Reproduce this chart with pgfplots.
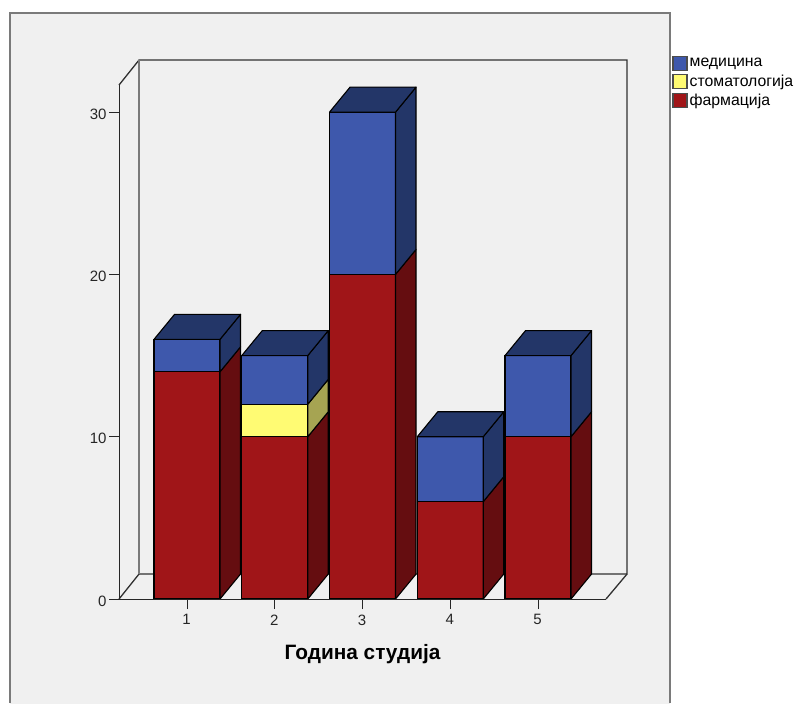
\documentclass[border=0pt]{standalone}
\usepackage{fontspec}
\setmainfont{Liberation Sans}
\usepackage{pgfplots}
\pgfplotsset{compat=1.18}

\definecolor{panel}{HTML}{F0F0F0}
\definecolor{rim}{HTML}{7A7A7A}
\definecolor{wallline}{HTML}{303030}
\definecolor{blue1}{HTML}{3E58AC}
\definecolor{blue2}{HTML}{233668}
\definecolor{yel1}{HTML}{FFFB73}
\definecolor{yel2}{HTML}{A6A452}
\definecolor{red1}{HTML}{A01518}
\definecolor{red2}{HTML}{650D10}

\pgfplotsset{
  wall/.style={forget plot, sharp plot, no markers, color=wallline, line width=1.3pt},
  face/.style={forget plot, sharp plot, no markers, draw=black, line width=1.1pt, line join=round, fill=#1},
  front/.style={ybar, bar width=66pt, bar shift=0pt, stack plots=y, draw=black, line width=1.1pt, fill=#1},
}

\begin{document}
\begin{tikzpicture}
\begin{axis}[
    scale only axis,
    width=487pt, height=514pt,
    xmin=0.2251, xmax=5.7749,
    ymin=0, ymax=31.67,
    clip=false,
    axis on top,
    axis x line*=bottom,
    axis y line*=left,
    axis line style={-, black!85, line width=1pt},
    xtick={1,2,3,4,5},
    ytick={0,10,20,30},
    tick align=outside,
    major tick length=10pt,
    tick style={black!85, line width=1pt},
    /pgf/number format/assume math mode=true,
    tick label style={font=\fontsize{15}{17}\selectfont, color=black!85},
    xticklabel style={yshift=-2pt, xshift=-0.5pt},
    yticklabel style={xshift=1pt, yshift=-2pt},
    xlabel={Година студија},
    xlabel style={font=\fontsize{20.8}{23}\selectfont\bfseries, at={(axis cs:3,-3.40)}, anchor=center},
    reverse legend,
    legend cell align=left,
    legend style={
        at={(axis cs:6.53,33.50)}, anchor=north west,
        draw=none, fill=none, inner sep=0pt,
        font=\fontsize{15.8}{17}\selectfont,
        row sep=2.2pt,
        /tikz/every even column/.append style={column sep=5pt},
    },
    legend image code/.code={
        \draw[#1, line width=1.2pt, draw=black!70] (0pt,-7pt) rectangle (14pt,7pt);
    },
]
% page and panel
\addplot[forget plot, sharp plot, draw=none, fill=white] coordinates {
    (-1.1311,-6.47) (7.9402,-6.47) (7.9402,36.91) (-1.1311,36.91)} -- cycle;
\addplot[forget plot, sharp plot, draw=none, fill=panel] coordinates {
    (-1.0228,-6.47) (6.4986,-6.47) (6.4986,36.11) (-1.0228,36.11)} -- cycle;
\addplot[forget plot, sharp plot, no markers, color=rim, line width=2pt] coordinates {
    (-1.0228,-6.40) (-1.0228,36.11) (6.4986,36.11) (6.4986,-6.40)};

% walls and floor
\addplot[wall] coordinates {(0.2251,31.67) (0.4530,33.21) (6.0142,33.21) (6.0142,1.54) (0.4530,1.54) (0.2251,0)};
\addplot[wall] coordinates {(5.7749,0) (6.0142,1.54)};
\addplot[wall, color=rim] coordinates {(0.4530,33.21) (0.4530,1.54)};

% front faces
\addplot[front=red1] coordinates {(1,14) (2,10) (3,20) (4,6) (5,10)};
\addlegendentry{фармација}
\addplot[front=yel1] coordinates {(1,0) (2,2) (3,0) (4,0) (5,0)};
\addlegendentry{стоматологија}
\addplot[front=blue1] coordinates {(1,2) (2,3) (3,10) (4,4) (5,5)};
\addlegendentry{медицина}

% side faces
\addplot[face=red2]  coordinates {(1.376,0) (1.61,1.54) (1.61,15.54) (1.376,14)} -- cycle;
\addplot[face=blue2] coordinates {(1.376,14) (1.61,15.54) (1.61,17.54) (1.376,16)} -- cycle;
\addplot[face=red2]  coordinates {(2.376,0) (2.61,1.54) (2.61,11.54) (2.376,10)} -- cycle;
\addplot[face=yel2]  coordinates {(2.376,10) (2.61,11.54) (2.61,13.54) (2.376,12)} -- cycle;
\addplot[face=blue2] coordinates {(2.376,12) (2.61,13.54) (2.61,16.54) (2.376,15)} -- cycle;
\addplot[face=red2]  coordinates {(3.376,0) (3.61,1.54) (3.61,21.54) (3.376,20)} -- cycle;
\addplot[face=blue2] coordinates {(3.376,20) (3.61,21.54) (3.61,31.54) (3.376,30)} -- cycle;
\addplot[face=red2]  coordinates {(4.376,0) (4.61,1.54) (4.61,7.54) (4.376,6)} -- cycle;
\addplot[face=blue2] coordinates {(4.376,6) (4.61,7.54) (4.61,11.54) (4.376,10)} -- cycle;
\addplot[face=red2]  coordinates {(5.376,0) (5.61,1.54) (5.61,11.54) (5.376,10)} -- cycle;
\addplot[face=blue2] coordinates {(5.376,10) (5.61,11.54) (5.61,16.54) (5.376,15)} -- cycle;

% top faces
\addplot[face=blue2] coordinates {(0.624,16) (0.858,17.54) (1.61,17.54) (1.376,16)} -- cycle;
\addplot[face=blue2] coordinates {(1.624,15) (1.858,16.54) (2.61,16.54) (2.376,15)} -- cycle;
\addplot[face=blue2] coordinates {(2.624,30) (2.858,31.54) (3.61,31.54) (3.376,30)} -- cycle;
\addplot[face=blue2] coordinates {(3.624,10) (3.858,11.54) (4.61,11.54) (4.376,10)} -- cycle;
\addplot[face=blue2] coordinates {(4.624,15) (4.858,16.54) (5.61,16.54) (5.376,15)} -- cycle;
\end{axis}
\end{tikzpicture}
\end{document}
